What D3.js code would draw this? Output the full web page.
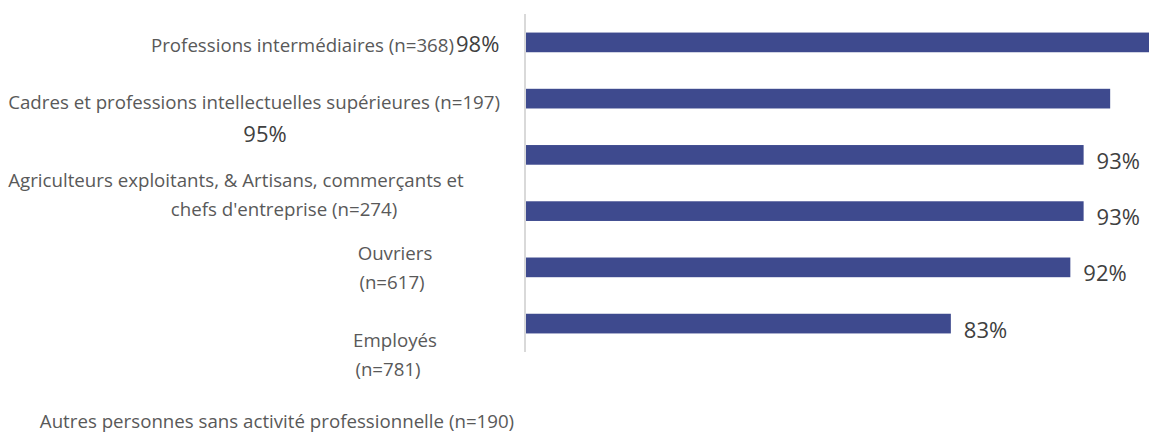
<!DOCTYPE html>
<html>
<head>
<meta charset="utf-8">
<style>
  body { margin: 0; background: #fff; }
  svg { display: block; }
  .cat { font-family: "Open Sans", sans-serif; font-size: 18.7px; fill: #595959; }
  .val { font-family: "Open Sans", sans-serif; font-size: 22px; fill: #404040; }
</style>
</head>
<body>
<svg width="1149" height="433"></svg>
<script src="https://d3js.org/d3.v7.min.js"></script>
<script>

// bars, top to bottom
var values = [98, 95, 93, 93, 92, 83];
var valueLabels = ["98%", "95%", "93%", "93%", "92%", "83%"];

// category labels (one more than there are bars, as in the original)
var categories = [
  ["Professions intermédiaires (n=368)"],
  ["Cadres et professions intellectuelles supérieures (n=197)"],
  ["Agriculteurs exploitants, & Artisans, commerçants et", "chefs d'entreprise (n=274)"],
  ["Ouvriers", "(n=617)"],
  ["Employés", "(n=781)"],
  ["Autres personnes sans activité professionnelle (n=190)"]
];

// where each label line sits (the source chart has them drifting)
var catLayout = [
  [{x: 454, y: 52, anchor: "end"}],
  [{x: 500, y: 109, anchor: "end"}],
  [{x: 236, y: 187, anchor: "middle"}, {x: 284, y: 216, anchor: "middle"}],
  [{x: 395, y: 260, anchor: "middle"}, {x: 392, y: 289, anchor: "middle"}],
  [{x: 395, y: 347, anchor: "middle"}, {x: 388, y: 376, anchor: "middle"}],
  [{x: 277, y: 428, anchor: "middle"}]
];

var svg = d3.select("svg"),
    width = +svg.attr("width"),
    height = +svg.attr("height");

var x = d3.scaleLinear()
    .domain([51, 98])
    .range([526, 1150]);

var y = d3.scaleBand()
    .domain(d3.range(values.length))
    .range([14, 352])
    .paddingInner(0.65)
    .paddingOuter(0.33);

// bars
svg.append("g")
  .selectAll("rect")
  .data(values)
  .enter().append("rect")
    .attr("x", x.range()[0])
    .attr("y", function(d, i) { return y(i); })
    .attr("width", function(d) { return x(d) - x.range()[0]; })
    .attr("height", y.bandwidth())
    .attr("fill", "#3e4a8e");

// vertical axis line
svg.append("line")
    .attr("x1", 525).attr("x2", 525)
    .attr("y1", y.range()[0]).attr("y2", y.range()[1])
    .attr("stroke", "#d9d9d9")
    .attr("stroke-width", 2);

// category labels
categories.forEach(function(lines, i) {
  lines.forEach(function(t, j) {
    var p = catLayout[i][j];
    svg.append("text")
        .attr("class", "cat")
        .attr("x", p.x)
        .attr("y", p.y)
        .attr("text-anchor", p.anchor)
        .text(t);
  });
});

// value labels: first two are displaced next to the category text
var valG = svg.append("g");
valG.append("text")
    .attr("class", "val")
    .attr("x", 456)
    .attr("y", 52)
    .text(valueLabels[0]);
valG.append("text")
    .attr("class", "val")
    .attr("x", 265)
    .attr("y", 142)
    .attr("text-anchor", "middle")
    .text(valueLabels[1]);

valG.selectAll("text.end")
  .data(values.slice(2))
  .enter().append("text")
    .attr("class", "val end")
    .attr("x", function(d) { return x(d) + 13; })
    .attr("y", function(d, i) { return y(i + 2) + y.bandwidth() / 2 + 14; })
    .text(function(d, i) { return valueLabels[i + 2]; });

</script>
</body>
</html>
